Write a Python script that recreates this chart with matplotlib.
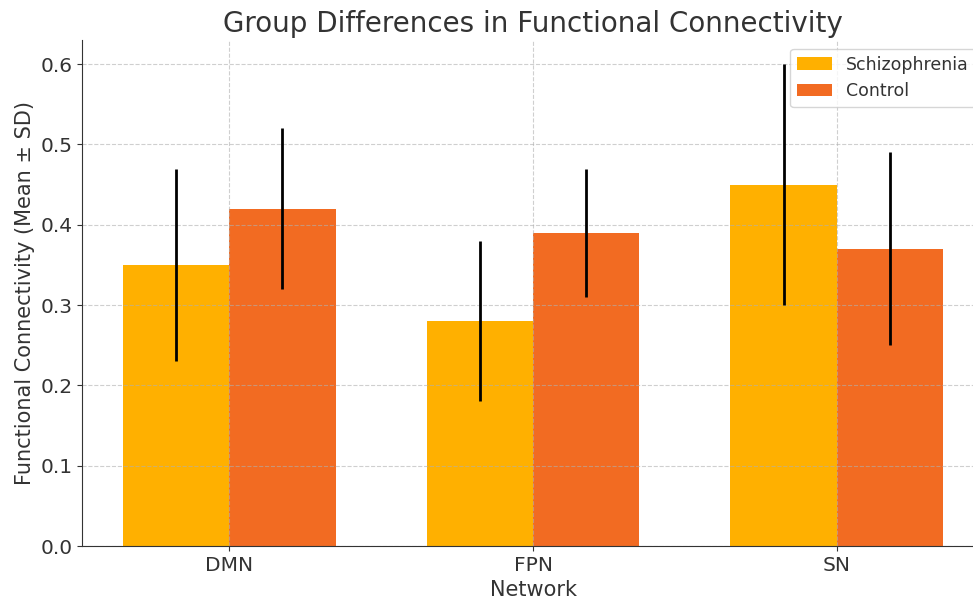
import matplotlib
matplotlib.use("Agg")
import matplotlib.pyplot as plt
import numpy as np

networks = ["DMN", "FPN", "SN"]
schizo_mean = [0.35, 0.28, 0.45]
schizo_sd = [0.12, 0.10, 0.15]
control_mean = [0.42, 0.39, 0.37]
control_sd = [0.10, 0.08, 0.12]

grey = "#333333"
plt.rcParams["text.color"] = grey
plt.rcParams["axes.labelcolor"] = grey
plt.rcParams["xtick.color"] = grey
plt.rcParams["ytick.color"] = grey
plt.rcParams["axes.edgecolor"] = grey

x = np.arange(len(networks))
width = 0.35

fig = plt.figure(figsize=(9.73, 6.0), dpi=100)
ax = fig.add_axes([82 / 973, 54 / 600, 902 / 973, 506 / 600])

ax.bar(x - width / 2, schizo_mean, width, yerr=schizo_sd, label="Schizophrenia",
       color="#FFB000", error_kw=dict(elinewidth=2, ecolor="black"))
ax.bar(x + width / 2, control_mean, width, yerr=control_sd, label="Control",
       color="#F26B22", error_kw=dict(elinewidth=2, ecolor="black"))

ax.set_xticks(x)
ax.set_xticklabels(networks, fontsize=14.5)
ax.tick_params(axis="y", labelsize=14.5)
ax.set_xlabel("Network", fontsize=15)
ax.set_ylabel("Functional Connectivity (Mean ± SD)", fontsize=15)
ax.set_title("Group Differences in Functional Connectivity", fontsize=20)
ax.legend(fontsize=12.5, loc="upper right")
ax.grid(True, linestyle="--", alpha=0.6)
ax.spines["top"].set_visible(False)
ax.spines["right"].set_visible(False)

fig.savefig("out.png", dpi=100)
